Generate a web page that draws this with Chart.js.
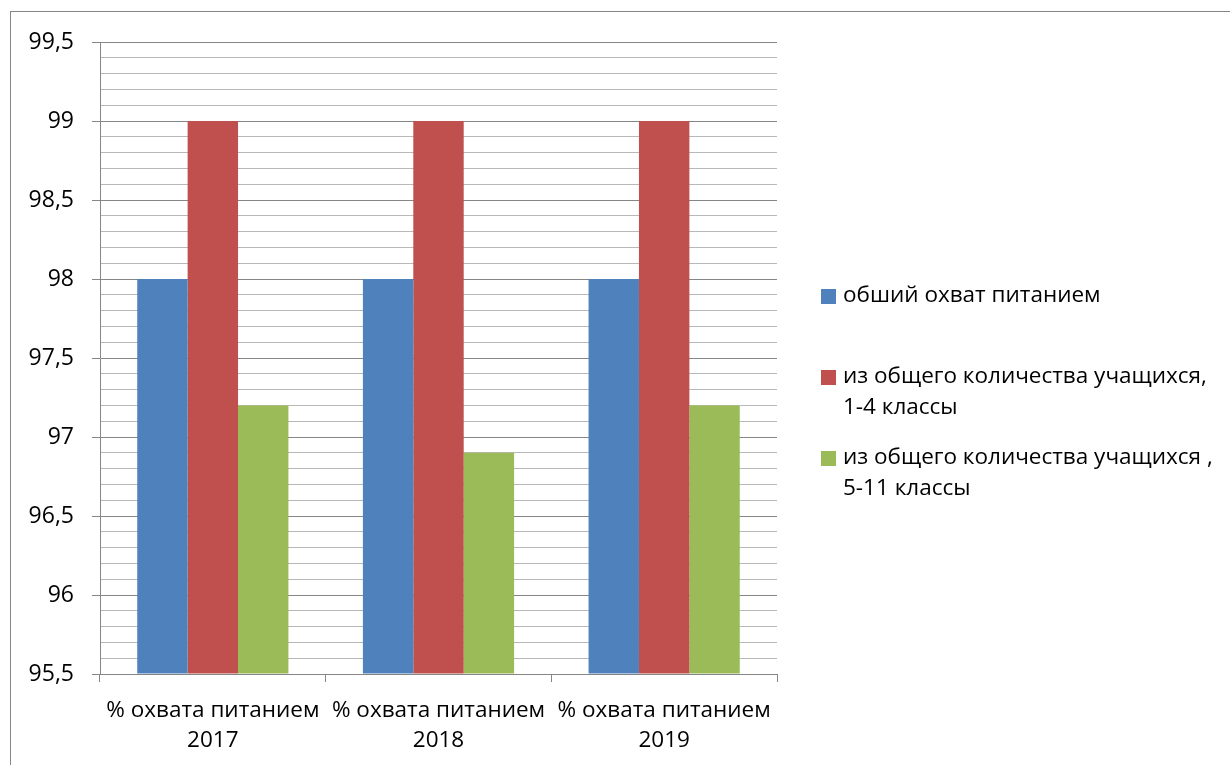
<!DOCTYPE html>
<html>
<head>
<meta charset="utf-8">
<script src="https://cdn.jsdelivr.net/npm/chart.js@4"></script>
<style>
  html, body { margin: 0; padding: 0; background: #fff; }
  #wrap { width: 1230px; height: 765px; }
</style>
</head>
<body>
<div id="wrap"><canvas id="chart" width="1230" height="765"></canvas></div>
<script>
// ===============================
// Данные
// ===============================
const categories = [
  ["% охвата питанием", "2017"],
  ["% охвата питанием", "2018"],
  ["% охвата питанием", "2019"]
];
const seriesNames = [
  ["обший охват питанием"],
  ["из общего количества учащихся,", "1-4 классы"],
  ["из общего количества учащихся ,", "5-11 классы"]
];
const obshiy = [98, 98, 98];
const klassy1_4 = [99, 99, 99];
const klassy5_11 = [97.2, 96.9, 97.2];
const colors = ["#4F81BD", "#C0504D", "#9BBB59"];

const FONT = "'Open Sans', 'Noto Sans', sans-serif";

const isMajor = v => Math.abs(v * 2 - Math.round(v * 2)) < 1e-6;

// рамка всей диаграммы
const frame = {
  id: "frame",
  beforeDraw(chart) {
    const ctx = chart.ctx;
    ctx.save();
    ctx.strokeStyle = "#868686";
    ctx.lineWidth = 1;
    ctx.strokeRect(10.5, 11.5, 1400, 900);
    ctx.restore();
  }
};

// легенда справа, с переносом строк
const legendRight = {
  id: "legendRight",
  afterDraw(chart) {
    const ctx = chart.ctx;
    const rows = [296, 377, 458];
    ctx.save();
    ctx.font = "22.5px " + FONT;
    ctx.textBaseline = "middle";
    chart.data.datasets.forEach((ds, i) => {
      const y = rows[i];
      ctx.fillStyle = ds.backgroundColor;
      ctx.fillRect(821, y - 7, 15, 15);
      ctx.fillStyle = "#000";
      ds.label.forEach((line, j) => {
        ctx.fillText(line, 843, y + j * 31);
      });
    });
    ctx.restore();
  }
};

new Chart(document.getElementById("chart"), {
  type: "bar",
  data: {
    labels: categories,
    datasets: [
      { label: seriesNames[0], data: obshiy, backgroundColor: colors[0] },
      { label: seriesNames[1], data: klassy1_4, backgroundColor: colors[1] },
      { label: seriesNames[2], data: klassy5_11, backgroundColor: colors[2] }
    ]
  },
  options: {
    responsive: false,
    animation: false,
    layout: { padding: { left: 0, top: 42, right: 453, bottom: 0 } },
    datasets: { bar: { categoryPercentage: 0.67, barPercentage: 1.0, base: 95.5 } },
    plugins: {
      legend: { display: false },
      tooltip: { enabled: false }
    },
    scales: {
      x: {
        grid: {
          offset: true,
          drawOnChartArea: false,
          tickLength: 8,
          color: "#868686"
        },
        border: { color: "#868686" },
        ticks: {
          color: "#000",
          padding: 14,
          maxRotation: 0,
          font: { family: FONT, size: 22.5, lineHeight: 1.33 }
        },
        afterFit(scale) { scale.height = 91; }
      },
      y: {
        min: 95.5,
        max: 99.5,
        grid: {
          color: ctx => isMajor(ctx.tick.value) ? "#868686" : "#B8B8B8",
          tickColor: ctx => isMajor(ctx.tick.value) ? "#868686" : "rgba(0,0,0,0)",
          tickLength: 8,
          lineWidth: 1
        },
        border: { color: "#868686" },
        ticks: {
          stepSize: 0.1,
          autoSkip: false,
          color: "#000",
          padding: 18,
          font: { family: FONT, size: 23 },
          callback: v => isMajor(v) ? String(Math.round(v * 2) / 2).replace(".", ",") : ""
        },
        afterFit(scale) { scale.width = 100; }
      }
    }
  },
  plugins: [frame, legendRight]
});
</script>
</body>
</html>
